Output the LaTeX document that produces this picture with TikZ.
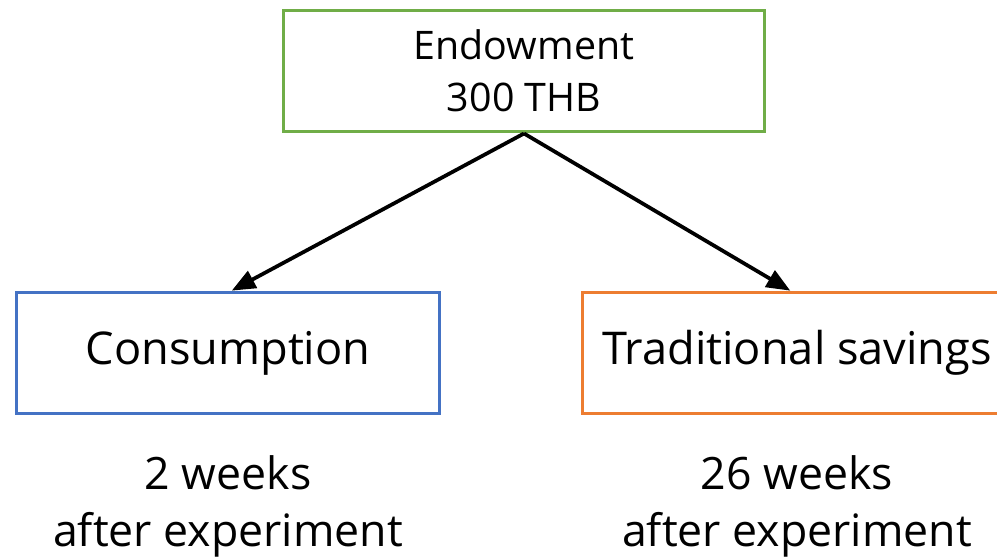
\documentclass[tikz,border=0pt]{standalone}
\usepackage{fontspec}
\setmainfont{Open Sans}
\usetikzlibrary{arrows}
\usetikzlibrary{positioning}
\definecolor{boxgreen}{HTML}{70AD47}
\definecolor{boxblue}{HTML}{4472C4}
\definecolor{boxorange}{HTML}{ED7D31}
\begin{document}
\begin{tikzpicture}[x=0.02cm,y=-0.02cm,>=triangle 45,
					  thick,choice box/.style={rectangle,draw,line width=0.06cm,inner sep=0pt,
					  minimum height=2.44cm,font=\fontsize{25.7}{30}\selectfont},
					  time label/.style={align=center,font=\fontsize{25.4}{32.5}\selectfont}]
					  \useasboundingbox (0,0) rectangle (997,557);
					
					  \node[choice box,draw=boxgreen,minimum width=9.62cm,align=center,
					        font=\fontsize{22.4}{29.5}\selectfont] (endow) at (524,71) {Endowment\\300 THB};
					  \node[choice box,draw=boxblue,minimum width=8.46cm] (cons) at (228,353) {Consumption};
					  \node[choice box,draw=boxorange,minimum width=8.6cm] (save) at (797,353) {Traditional savings};
					  
					  \node[time label] (consweeks) [below of=cons,node distance=3.06cm] {2 weeks\\after experiment};
					  \node[time label] (saveweeks) [below of=save,node distance=3.06cm] {26 weeks\\after experiment};
					  
					  \path[->,line width=0.075cm]
					    (endow.south) edge[] node {} ([xshift=0.08cm]cons.north)
					    (endow.south) edge[] node {} ([xshift=-0.14cm]save.north)
					;
					\end{tikzpicture}
\end{document}
